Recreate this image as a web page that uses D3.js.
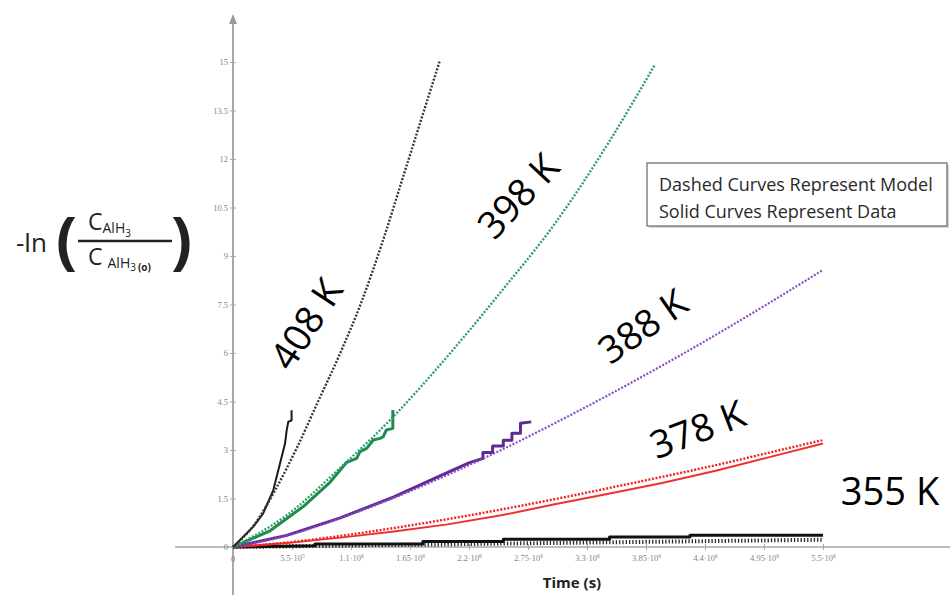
<!DOCTYPE html>
<html><head><meta charset="utf-8">
<script src="https://cdn.jsdelivr.net/npm/d3@7/dist/d3.min.js"></script>
<style>body{margin:0;background:#fff}svg{display:block}</style>
</head><body>
<svg id="chart" width="950" height="595"></svg>
<script>
// ---------- data (time in seconds) ----------
const xTicks = [550000, 1100000, 1650000, 2200000, 2750000, 3300000, 3850000, 4400000, 4950000, 5500000];
const xTickMantissa = ["5.5", "1.1", "1.65", "2.2", "2.75", "3.3", "3.85", "4.4", "4.95", "5.5"];
const xTickExponent = ["5", "6", "6", "6", "6", "6", "6", "6", "6", "6"];
const yTicks = [1.5, 3, 4.5, 6, 7.5, 9, 10.5, 12, 13.5, 15];
const yTickLabels = ["1.5", "3", "4.5", "6", "7.5", "9", "10.5", "12", "13.5", "15"];

// model (dashed) curves
const t408Model = [0, 200000, 400000, 600000, 800000, 1000000, 1200000, 1400000, 1600000, 1800000, 1930000];
const y408Model = [0, 0.7, 1.8, 3.1, 4.55, 6.0, 7.6, 9.5, 11.6, 13.7, 15.06];
const t398Model = [0, 500000, 1000000, 1500000, 2000000, 2500000, 3000000, 3500000, 3930000];
const y398Model = [0, 0.98, 2.45, 4.05, 5.9, 7.9, 10.0, 12.5, 14.9];
const t388Model = [0, 500000, 1000000, 1500000, 2000000, 2500000, 3000000, 3500000, 4000000, 4500000, 5000000, 5500000];
const y388Model = [0, 0.35, 0.89, 1.52, 2.23, 3.0, 3.83, 4.7, 5.61, 6.56, 7.55, 8.57];
const t378Model = [0, 500000, 1000000, 1500000, 2000000, 2500000, 3000000, 3500000, 4000000, 4500000, 5000000, 5500000];
const y378Model = [0, 0.137, 0.343, 0.588, 0.862, 1.16, 1.48, 1.82, 2.17, 2.53, 2.92, 3.31];
const t355Model = [0, 1000000, 2000000, 3000000, 4000000, 5000000, 5500000];
const y355Model = [0, 0.04, 0.085, 0.125, 0.165, 0.205, 0.225];

// measured (solid) curves
const t408Data = [0, 190000, 280000, 376000, 454000, 485000, 500000, 515000, 546000, 546000];
const y408Data = [0, 0.63, 1.03, 1.76, 2.79, 3.2, 3.6, 3.87, 3.92, 4.23];
const t398Data = [0, 345000, 655000, 904000, 1060000, 1153000, 1184000, 1246000, 1308000, 1370000, 1400000, 1430000, 1490000, 1490000];
const y398Data = [0, 0.5, 1.25, 2.0, 2.62, 2.74, 2.95, 3.05, 3.31, 3.36, 3.41, 3.62, 3.67, 4.24];
const t388Data = [0, 500000, 1000000, 1500000, 1930000, 2200000, 2330000, 2330000, 2420000, 2420000, 2520000, 2520000, 2600000, 2600000, 2680000, 2680000, 2780000];
const y388Data = [0, 0.36, 0.9, 1.55, 2.2, 2.6, 2.74, 2.92, 2.92, 3.12, 3.12, 3.3, 3.3, 3.52, 3.52, 3.83, 3.87];
const t378Data = [0, 500000, 1000000, 1500000, 2000000, 2500000, 3000000, 3500000, 4000000, 4500000, 5000000, 5500000];
const y378Data = [0, 0.12, 0.29, 0.48, 0.70, 0.98, 1.32, 1.65, 1.98, 2.36, 2.78, 3.2];
const t355Data = [0, 764000, 764000, 1770000, 1770000, 2520000, 2520000, 3510000, 3510000, 4260000, 4260000, 5500000];
const y355Data = [0, 0.04, 0.09, 0.09, 0.17, 0.17, 0.24, 0.24, 0.31, 0.31, 0.36, 0.36];

const seriesLabels = ["408 K", "398 K", "388 K", "378 K", "355 K"];
const legendLines = ["Dashed Curves Represent Model", "Solid Curves Represent Data"];

// ---------- drawing ----------
const svg = d3.select("#chart");
svg.append("rect").attr("width", 950).attr("height", 595).attr("fill", "#fff");

const x = d3.scaleLinear().domain([0, 5500000]).range([233, 823]);
const y = d3.scaleLinear().domain([0, 15]).range([547, 62]);

const axisColor = "#a8a8a8";
const tickText = "#858585";

// axis lines
svg.append("line").attr("x1", x(-540000)).attr("x2", 950)
  .attr("y1", y(0)).attr("y2", y(0)).attr("stroke", axisColor).attr("stroke-width", 1.5);
svg.append("line").attr("x1", x(0)).attr("x2", x(0))
  .attr("y1", 20).attr("y2", 595).attr("stroke", axisColor).attr("stroke-width", 2);
svg.append("path")
  .attr("d", `M${x(0)-4},${24} L${x(0)},${14} L${x(0)+4},${24} Z`)
  .attr("fill", "#9a9a9a");

// x axis ticks
const gx = svg.append("g").attr("transform", `translate(0,${y(0)})`)
  .call(d3.axisBottom(x).tickValues(xTicks).tickSize(3).tickPadding(5).tickFormat(""));
gx.select(".domain").remove();
gx.selectAll(".tick line").attr("stroke", axisColor);
gx.selectAll(".tick").append("line").attr("y2", -3).attr("stroke", axisColor);
gx.selectAll(".tick text").each(function(d, i) {
  const t = d3.select(this).attr("fill", tickText)
    .style("font-family", "'Liberation Serif', serif").style("font-size", "8.5px");
  t.append("tspan").text(xTickMantissa[i] + "·10");
  t.append("tspan").attr("dy", -3).style("font-size", "5.5px").text(xTickExponent[i]);
});

// y axis ticks
const gy = svg.append("g").attr("transform", `translate(${x(0)},0)`)
  .call(d3.axisLeft(y).tickValues(yTicks).tickSize(3).tickPadding(2).tickFormat((d, i) => yTickLabels[i]));
gy.select(".domain").remove();
gy.selectAll(".tick line").attr("stroke", axisColor);
gy.selectAll(".tick").append("line").attr("x2", 3).attr("stroke", axisColor);
gy.selectAll(".tick text").attr("fill", tickText)
  .style("font-family", "'Liberation Serif', serif").style("font-size", "8.5px");

// zero labels
svg.append("text").attr("x", x(0) - 5).attr("y", y(0) + 3).attr("text-anchor", "end")
  .attr("fill", tickText).style("font-family", "'Liberation Serif', serif").style("font-size", "8.5px").text("0");
svg.append("text").attr("x", x(0)).attr("y", y(0) + 15).attr("text-anchor", "middle")
  .attr("fill", tickText).style("font-family", "'Liberation Serif', serif").style("font-size", "8.5px").text("0");

// lines
const line = d3.line().x(d => x(d[0])).y(d => y(d[1]));
function pts(ts, ys) { return ts.map((t, i) => [t, ys[i]]); }
function drawDotted(ts, ys, color, w, dash) {
  svg.append("path").datum(pts(ts, ys)).attr("d", line.curve(d3.curveMonotoneX))
    .attr("fill", "none").attr("stroke", color).attr("stroke-width", w)
    .attr("stroke-dasharray", dash);
}
function drawSolid(ts, ys, color, w) {
  svg.append("path").datum(pts(ts, ys)).attr("d", line.curve(d3.curveLinear))
    .attr("fill", "none").attr("stroke", color).attr("stroke-width", w)
    .attr("stroke-linejoin", "round");
}

// 355 K
drawDotted(t355Model, y355Model, "#2a2a2a", 4, "1.3,2");
drawSolid(t355Data, y355Data, "#111", 3);
// 378 K
drawSolid(t378Data, y378Data, "#f03030", 2);
drawDotted(t378Model, y378Model, "#ee2222", 2.4, "2,1.6");
// 388 K
drawSolid(t388Data, y388Data, "#5e2a96", 3);
drawDotted(t388Model, y388Model, "#8a4cc4", 2.2, "2,1.6");
// 398 K
drawSolid(t398Data, y398Data, "#1f8c4e", 3);
drawDotted(t398Model, y398Model, "#2f9e70", 2.4, "2,1.6");
// 408 K
drawSolid(t408Data, y408Data, "#1a1a1a", 2);
drawDotted(t408Model, y408Model, "#383838", 2.4, "2,1.6");

// rotated temperature labels
const labelPos = [[305, 323, -57], [517, 195, -47], [642, 325, -35], [697, 428, -21], [890, 490, 0]];
seriesLabels.forEach((s, i) => {
  const p = labelPos[i];
  svg.append("text")
    .attr("transform", `translate(${p[0]},${p[1]}) rotate(${p[2]})`)
    .attr("text-anchor", "middle").attr("dominant-baseline", "central")
    .style("font-family", "'Open Sans', sans-serif").style("font-size", "38px")
    .attr("fill", "#000").text(s);
});

// legend
svg.append("rect").attr("x", 649).attr("y", 165).attr("width", 300).attr("height", 63).attr("fill", "#d8d8d8");
svg.append("rect").attr("x", 647).attr("y", 163).attr("width", 300).attr("height", 63)
  .attr("fill", "#fff").attr("stroke", "#666").attr("stroke-width", 1.2);
legendLines.forEach((s, i) => {
  svg.append("text").attr("x", 659).attr("y", 191 + i * 27)
    .style("font-family", "'Open Sans', sans-serif").style("font-size", "18px")
    .attr("fill", "#2a2a2a").text(s);
});

// x axis title
svg.append("text").attr("x", 572).attr("y", 588).attr("text-anchor", "middle")
  .style("font-family", "'Open Sans', sans-serif").style("font-size", "15px").style("font-weight", "bold")
  .attr("fill", "#222").text("Time (s)");

// y axis title: -ln ( C_AlH3 / C_AlH3(o) )
const yl = svg.append("g").style("font-family", "'Open Sans', sans-serif").attr("fill", "#222");
yl.append("text").attr("x", 16).attr("y", 252).style("font-size", "26px").text("-ln");
yl.append("text").attr("x", 56).attr("y", 262).style("font-size", "62px").style("font-weight", "bold").text("(");
yl.append("text").attr("x", 171).attr("y", 262).style("font-size", "62px").style("font-weight", "bold").text(")");
yl.append("line").attr("x1", 78).attr("x2", 172).attr("y1", 241).attr("y2", 241)
  .attr("stroke", "#222").attr("stroke-width", 2.5);
const num = yl.append("text").attr("x", 88).attr("y", 230).style("font-size", "23px");
num.append("tspan").text("C");
num.append("tspan").attr("dy", 3).style("font-size", "14px").text("AlH");
num.append("tspan").attr("dy", 4).style("font-size", "10px").text("3");
const den = yl.append("text").attr("x", 88).attr("y", 265).style("font-size", "23px");
den.append("tspan").text("C");
den.append("tspan").attr("dx", 5).attr("dy", 3).style("font-size", "14px").text("AlH");
den.append("tspan").attr("dy", 3).style("font-size", "10px").text("3");
den.append("tspan").attr("dx", 2).style("font-size", "10px").style("font-weight", "bold").text("(o)");
</script>
</body></html>
